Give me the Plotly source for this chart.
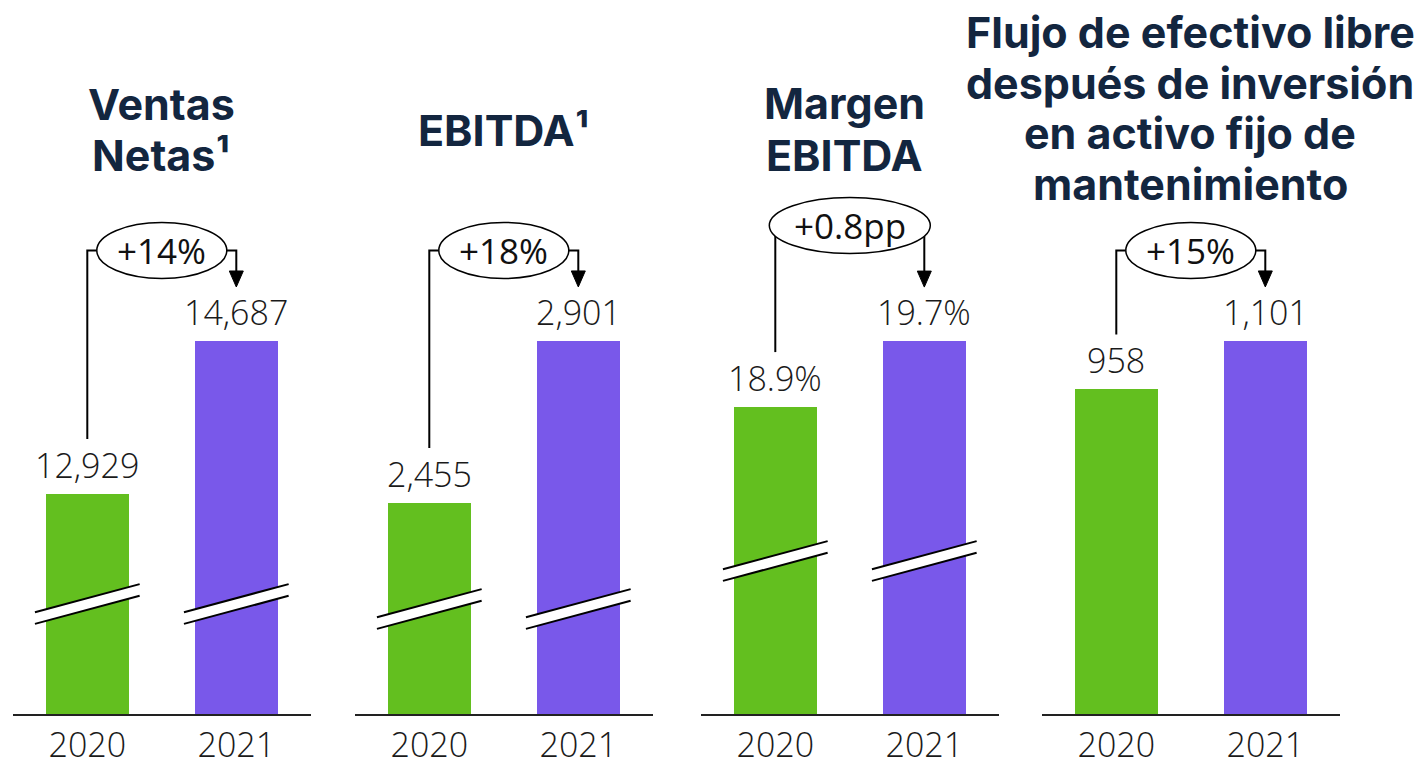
import plotly.graph_objects as go

# ---------------- data ----------------
years = ["2020", "2021"]
titles = [
    ["Ventas", "Netas¹"],
    ["EBITDA¹"],
    ["Margen", "EBITDA"],
    ["Flujo de efectivo libre", "después de inversión", "en activo fijo de", "mantenimiento"],
]
values_2020 = [12929, 2455, 18.9, 958]
values_2021 = [14687, 2901, 19.7, 1101]
is_percent = [False, False, True, False]
changes = ["+14%", "+18%", "+0.8pp", "+15%"]
broken = [True, True, True, False]

# ---------------- layout constants ----------------
W, H = 1428, 760
GREEN = "#63BF1F"
PURPLE = "#7958EA"
NAVY = "#13263F"
INK = "#1A1A1A"

panel_left_px = [12.8, 354.8, 700.8, 1041.8]
panel_w_px = 298
plot_bottom_px = 714
plot_top_px = 200
y_ranges = [(10401, 16307), (1874, 3289), (15.18, 21.41), (0, 1517)]
title_center_px = [161, 503, 844, 1190]
title_y_px = [[103.5, 154.5], [130.5], [103, 155], [32, 83, 133, 184]]
ell_cy_px = [250.5, 250.5, 225.5, 250.5]
ell_w_px = [130, 130, 161, 130]
ell_h_px = 56
break_mid_px = [110, 105, 153, None]
bar_width = 0.555
label_font = dict(family="Open Sans", size=34, color=INK, weight=300)


def px_x(p, i):
    return panel_left_px[p] + (i + 0.5) * panel_w_px / 2


def px_y(p, v):
    lo, hi = y_ranges[p]
    return plot_bottom_px - (v - lo) / (hi - lo) * (plot_bottom_px - plot_top_px)


def fx(px):
    return px / W


def fy(py):
    return 1 - py / H


fig = go.Figure()
shapes = []
annotations = []

for p in range(4):
    ax = "" if p == 0 else str(p + 1)
    vals = [values_2020[p], values_2021[p]]
    fig.add_trace(go.Bar(
        x=years, y=vals, width=bar_width,
        marker=dict(color=[GREEN, PURPLE], line=dict(width=0)),
        xaxis="x" + ax, yaxis="y" + ax, showlegend=False,
        hoverinfo="x+y",
    ))
    x_dom = [fx(panel_left_px[p]), fx(panel_left_px[p] + panel_w_px)]
    fig.update_layout(**{
        "xaxis" + ax: dict(
            domain=x_dom, range=[-0.5, 1.5], type="category",
            showline=True, linecolor="#222222", linewidth=2,
            showgrid=False, zeroline=False, ticks="", automargin=False,
            tickfont=dict(family="Open Sans", size=34, color=INK, weight=300),
            anchor="y" + ax, fixedrange=True,
        ),
        "yaxis" + ax: dict(
            domain=[fy(plot_bottom_px), fy(plot_top_px)], range=list(y_ranges[p]),
            visible=False, showgrid=False, zeroline=False, automargin=False,
            anchor="x" + ax, fixedrange=True,
        ),
    })

    # value labels (x given as category index)
    for i, v in enumerate(vals):
        txt = f"{v:.1f}%" if is_percent[p] else f"{v:,.0f}"
        annotations.append(dict(
            x=i, y=v, xref="x" + ax, yref="y" + ax,
            text=txt, showarrow=False, yanchor="bottom", xanchor="center",
            yshift=4, font=label_font,
        ))

    # titles
    for line, ty in zip(titles[p], title_y_px[p]):
        annotations.append(dict(
            x=fx(title_center_px[p]), y=fy(ty), xref="paper", yref="paper",
            text=f"<b>{line}</b>", showarrow=False, xanchor="center", yanchor="middle",
            font=dict(family="Inter", size=43, color=NAVY),
        ))

    # break marks
    if broken[p]:
        half = bar_width * panel_w_px / 4 + 11
        slope = 0.268
        gap = 5.85
        for i in range(2):
            xc = px_x(p, i)
            ym = plot_bottom_px - break_mid_px[p]
            xl, xr = xc - half, xc + half
            tl = ym - gap + half * slope
            tr = ym - gap - half * slope
            bl = ym + gap + half * slope
            br = ym + gap - half * slope
            shapes.append(dict(
                type="path", xref="paper", yref="paper",
                path=f"M{fx(xl)},{fy(tl)} L{fx(xr)},{fy(tr)} L{fx(xr)},{fy(br)} L{fx(xl)},{fy(bl)} Z",
                fillcolor="white", line=dict(width=0), layer="above",
            ))
            for (ya, yb) in [(tl, tr), (bl, br)]:
                shapes.append(dict(
                    type="line", xref="paper", yref="paper",
                    x0=fx(xl), y0=fy(ya), x1=fx(xr), y1=fy(yb),
                    line=dict(color="black", width=2), layer="above",
                ))

    # change connector
    cx = (px_x(p, 0) + px_x(p, 1)) / 2
    cy = ell_cy_px[p]
    a = ell_w_px[p] / 2
    b = ell_h_px / 2
    x0 = px_x(p, 0)
    x1 = px_x(p, 1)
    start_y = px_y(p, values_2020[p]) - 55
    tip_y = px_y(p, values_2021[p]) - 54
    head_h = 16
    head_w = 14

    def edge_y(x):
        dx = (x - cx) / a
        if abs(dx) >= 1:
            return None
        return cy + b * (1 - dx * dx) ** 0.5

    ey0 = edge_y(x0)
    if ey0 is None:
        path_l = f"M{fx(x0)},{fy(start_y)} L{fx(x0)},{fy(cy)} L{fx(cx - a)},{fy(cy)}"
    else:
        path_l = f"M{fx(x0)},{fy(start_y)} L{fx(x0)},{fy(ey0)}"
    ey1 = edge_y(x1)
    if ey1 is None:
        path_r = f"M{fx(cx + a)},{fy(cy)} L{fx(x1)},{fy(cy)} L{fx(x1)},{fy(tip_y - head_h)}"
    else:
        path_r = f"M{fx(x1)},{fy(ey1)} L{fx(x1)},{fy(tip_y - head_h)}"
    for pth in (path_l, path_r):
        shapes.append(dict(type="path", xref="paper", yref="paper", path=pth,
                           line=dict(color="black", width=2), layer="above"))
    shapes.append(dict(
        type="path", xref="paper", yref="paper",
        path=f"M{fx(x1 - head_w / 2)},{fy(tip_y - head_h)} L{fx(x1 + head_w / 2)},{fy(tip_y - head_h)} L{fx(x1)},{fy(tip_y)} Z",
        fillcolor="black", line=dict(color="black", width=1), layer="above",
    ))
    shapes.append(dict(
        type="circle", xref="paper", yref="paper",
        x0=fx(cx - a), x1=fx(cx + a), y0=fy(cy + b), y1=fy(cy - b),
        fillcolor="white", line=dict(color="black", width=1.5), layer="above",
    ))
    annotations.append(dict(
        x=fx(cx), y=fy(cy), xref="paper", yref="paper", text=changes[p],
        showarrow=False, xanchor="center", yanchor="middle",
        font=dict(family="Open Sans", size=35, color="#111111"),
    ))

fig.update_layout(
    width=W, height=H,
    margin=dict(l=0, r=0, t=0, b=0),
    paper_bgcolor="white", plot_bgcolor="white",
    shapes=shapes, annotations=annotations,
    bargap=0,
)

fig.write_html(
    "out.html",
    config={"displayModeBar": False},
    post_script="document.body.style.margin='0';document.body.style.overflow='hidden';",
)
